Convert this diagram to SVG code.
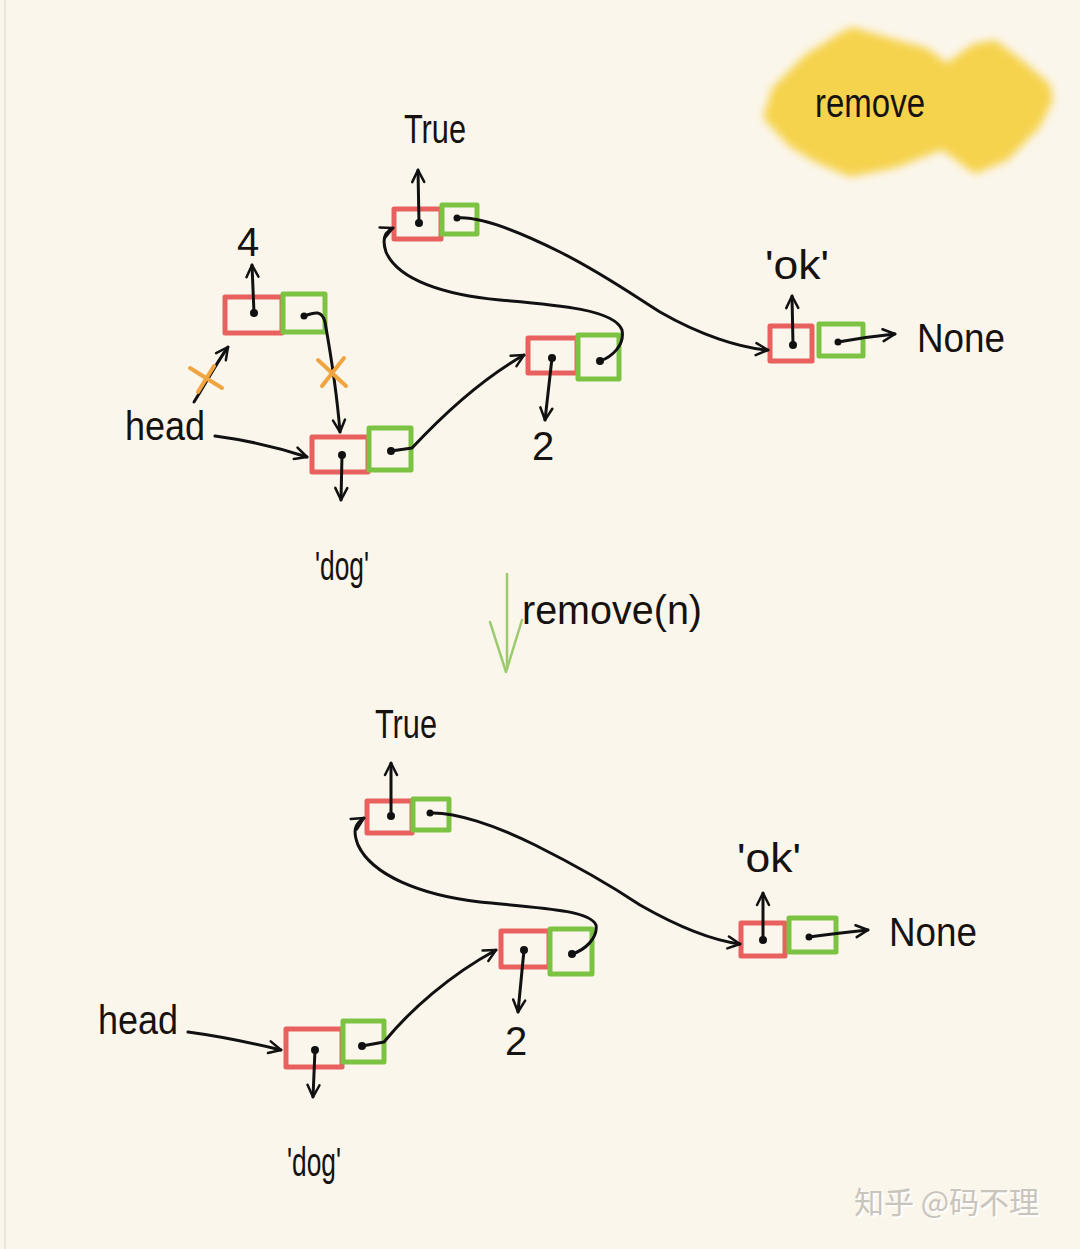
<svg xmlns="http://www.w3.org/2000/svg" width="1080" height="1249" viewBox="0 0 1080 1249">
<defs>
<style>
.bg{fill:#FBF6EC}
.red{fill:none;stroke:#E8615E;stroke-width:5;stroke-linejoin:round}
.grn{fill:none;stroke:#7CC343;stroke-width:5;stroke-linejoin:round}
.ln{fill:none;stroke:#111;stroke-width:3;stroke-linecap:round;stroke-linejoin:round}
.dot{fill:#111}
.lbl{font-family:"Liberation Sans","DejaVu Sans",sans-serif;font-size:40px;fill:#161210}
.x{stroke:#F0A540;stroke-width:4;stroke-linecap:round}
.wm{font-family:"Noto Sans CJK SC","Noto Sans",sans-serif;font-size:30px}
</style>
<marker id="ah" viewBox="0 0 16 16" refX="14" refY="8" markerWidth="16" markerHeight="16" markerUnits="userSpaceOnUse" orient="auto">
<path d="M2,2 L14,8 L2,14" fill="none" stroke="#111" stroke-width="2.5" stroke-linecap="round" stroke-linejoin="round"/>
</marker>
<filter id="blur" x="-10%" y="-20%" width="120%" height="140%"><feGaussianBlur stdDeviation="4"/></filter>
</defs>
<rect class="bg" x="0" y="0" width="1080" height="1249"/>
<line x1="5" y1="0" x2="5" y2="1249" stroke="#E6E1D8" stroke-width="1.5"/>

<!-- title blob -->
<g id="title">
<path d="M763,118 L772,88 L805,55 L840,33 L852,27 L890,38 L927,48 L947,63 L973,44 L995,40 L1022,60 L1050,84 L1053,100 L1040,127 L1008,160 L975,174 L942,150 L895,168 L850,177 L815,162 L790,147 Z" fill="#F6D34E" filter="url(#blur)"/>
<text class="lbl" x="815" y="117" font-size="38" textLength="110" lengthAdjust="spacingAndGlyphs">remove</text>
</g>

<!-- ===== TOP DIAGRAM ===== -->
<g id="t-head"><text class="lbl" x="125" y="440" textLength="80" lengthAdjust="spacingAndGlyphs">head</text></g>

<g id="t-n4">
<rect class="red" x="225" y="297" width="57" height="36"/>
<rect class="grn" x="283" y="294" width="42" height="38"/>
<circle class="dot" cx="254" cy="313" r="4"/>
<circle class="dot" cx="304" cy="316" r="3.5"/>
<line class="ln" x1="254" y1="313" x2="252" y2="265" marker-end="url(#ah)"/>
<text class="lbl" x="237" y="256" font-size="32">4</text>
</g>

<g id="t-ndog">
<rect class="red" x="312" y="437" width="56" height="35"/>
<rect class="grn" x="369" y="428" width="42" height="42"/>
<circle class="dot" cx="342" cy="455" r="4"/>
<circle class="dot" cx="391" cy="451" r="4"/>
<line class="ln" x1="342" y1="455" x2="341" y2="500" marker-end="url(#ah)"/>
<text class="lbl" x="315" y="580" font-size="42" textLength="54" lengthAdjust="spacingAndGlyphs">'dog'</text>
</g>

<g id="t-n2">
<rect class="red" x="528" y="338" width="49" height="35"/>
<rect class="grn" x="578" y="335" width="41" height="44"/>
<circle class="dot" cx="552" cy="358" r="4"/>
<circle class="dot" cx="600" cy="361" r="4"/>
<line class="ln" x1="552" y1="358" x2="545" y2="420" marker-end="url(#ah)"/>
<text class="lbl" x="532" y="460" font-size="32">2</text>
</g>

<g id="t-ntrue">
<rect class="red" x="394" y="209" width="47" height="30"/>
<rect class="grn" x="442" y="205" width="35" height="29"/>
<circle class="dot" cx="419" cy="223" r="4"/>
<circle class="dot" cx="457" cy="218" r="3.5"/>
<line class="ln" x1="419" y1="223" x2="418" y2="170" marker-end="url(#ah)"/>
<text class="lbl" x="404" y="143" textLength="62" lengthAdjust="spacingAndGlyphs">True</text>
</g>

<g id="t-nok">
<rect class="red" x="770" y="326" width="42" height="35"/>
<rect class="grn" x="819" y="324" width="44" height="32"/>
<circle class="dot" cx="793" cy="345" r="4"/>
<circle class="dot" cx="838" cy="342" r="3.5"/>
<line class="ln" x1="793" y1="345" x2="792" y2="296" marker-end="url(#ah)"/>
<text class="lbl" x="765" y="279" font-size="28" textLength="64" lengthAdjust="spacingAndGlyphs">'ok'</text>
</g>

<g id="t-none"><text class="lbl" x="917" y="352" textLength="88" lengthAdjust="spacingAndGlyphs">None</text></g>

<g id="t-edges">
<path class="ln" d="M215,436 C245,440 280,448 307,457" marker-end="url(#ah)"/>
<path class="ln" d="M194,402 C205,385 215,365 228,347" marker-end="url(#ah)"/>
<path class="ln" d="M304,316 C315,312 322,310 325,322 C330,350 337,395 340,432" marker-end="url(#ah)"/>
<path class="ln" d="M391,451 L412,448 C440,418 480,380 524,355" marker-end="url(#ah)"/>
<path class="ln" d="M600,361 C612,357 625,345 622,330 C615,310 560,305 500,300 C445,295 398,280 386,252 C382,240 384,232 393,228" marker-end="url(#ah)"/>
<path class="ln" d="M457,218 C480,216 520,232 560,252 C600,272 630,293 660,312 C700,335 740,348 768,350" marker-end="url(#ah)"/>
<path class="ln" d="M838,342 C860,338 875,336 895,334" marker-end="url(#ah)"/>
<line class="x" x1="190" y1="368" x2="222" y2="388"/>
<line class="x" x1="214" y1="366" x2="198" y2="392"/>
<line class="x" x1="318" y1="360" x2="346" y2="386"/>
<line class="x" x1="344" y1="358" x2="322" y2="386"/>
</g>

<!-- transition -->
<g id="step">
<line x1="507" y1="573" x2="507" y2="670" stroke="#9CCB6E" stroke-width="2.5"/>
<path d="M490,622 L506,672 L522,620" fill="none" stroke="#9CCB6E" stroke-width="2.5" stroke-linecap="round" stroke-linejoin="round"/>
<text class="lbl" x="522" y="624" font-size="38" textLength="180" lengthAdjust="spacingAndGlyphs">remove(n)</text>
</g>

<!-- ===== BOTTOM DIAGRAM ===== -->
<g id="b-head"><text class="lbl" x="98" y="1034" textLength="80" lengthAdjust="spacingAndGlyphs">head</text></g>

<g id="b-ndog">
<rect class="red" x="286" y="1029" width="56" height="38"/>
<rect class="grn" x="343" y="1021" width="41" height="41"/>
<circle class="dot" cx="315" cy="1050" r="4"/>
<circle class="dot" cx="362" cy="1046" r="4"/>
<line class="ln" x1="315" y1="1050" x2="313" y2="1097" marker-end="url(#ah)"/>
<text class="lbl" x="287" y="1176" font-size="42" textLength="54" lengthAdjust="spacingAndGlyphs">'dog'</text>
</g>

<g id="b-n2">
<rect class="red" x="501" y="931" width="48" height="36"/>
<rect class="grn" x="550" y="929" width="42" height="45"/>
<circle class="dot" cx="524" cy="950" r="4"/>
<circle class="dot" cx="572" cy="954" r="4"/>
<line class="ln" x1="524" y1="950" x2="518" y2="1012" marker-end="url(#ah)"/>
<text class="lbl" x="505" y="1055" font-size="32">2</text>
</g>

<g id="b-ntrue">
<rect class="red" x="367" y="801" width="45" height="32"/>
<rect class="grn" x="413" y="799" width="36" height="31"/>
<circle class="dot" cx="391" cy="816" r="4"/>
<circle class="dot" cx="430" cy="813" r="3.5"/>
<line class="ln" x1="391" y1="816" x2="391" y2="763" marker-end="url(#ah)"/>
<text class="lbl" x="375" y="738" textLength="62" lengthAdjust="spacingAndGlyphs">True</text>
</g>

<g id="b-nok">
<rect class="red" x="741" y="923" width="44" height="33"/>
<rect class="grn" x="789" y="918" width="47" height="34"/>
<circle class="dot" cx="763" cy="940" r="4"/>
<circle class="dot" cx="809" cy="937" r="3.5"/>
<line class="ln" x1="763" y1="940" x2="763" y2="893" marker-end="url(#ah)"/>
<text class="lbl" x="737" y="872" font-size="28" textLength="64" lengthAdjust="spacingAndGlyphs">'ok'</text>
</g>

<g id="b-none"><text class="lbl" x="889" y="946" textLength="88" lengthAdjust="spacingAndGlyphs">None</text></g>

<g id="b-edges">
<path class="ln" d="M188,1032 C218,1036 252,1043 281,1050" marker-end="url(#ah)"/>
<path class="ln" d="M362,1046 L384,1042 C410,1010 450,975 496,950" marker-end="url(#ah)"/>
<path class="ln" d="M572,954 C585,950 598,938 596,925 C590,910 540,908 480,902 C420,895 372,875 358,845 C353,832 354,824 364,818" marker-end="url(#ah)"/>
<path class="ln" d="M430,813 C455,812 495,825 535,845 C575,865 610,885 640,905 C675,925 710,940 740,944" marker-end="url(#ah)"/>
<path class="ln" d="M809,937 C830,934 848,932 868,930" marker-end="url(#ah)"/>
</g>

<!-- watermark -->
<g id="watermark">
<text class="wm" x="856" y="1215" fill="#FFFFFF" opacity="0.9">知乎 @码不理</text>
<text class="wm" x="854" y="1213" fill="#C9C4BC">知乎 @码不理</text>
</g>
</svg>
